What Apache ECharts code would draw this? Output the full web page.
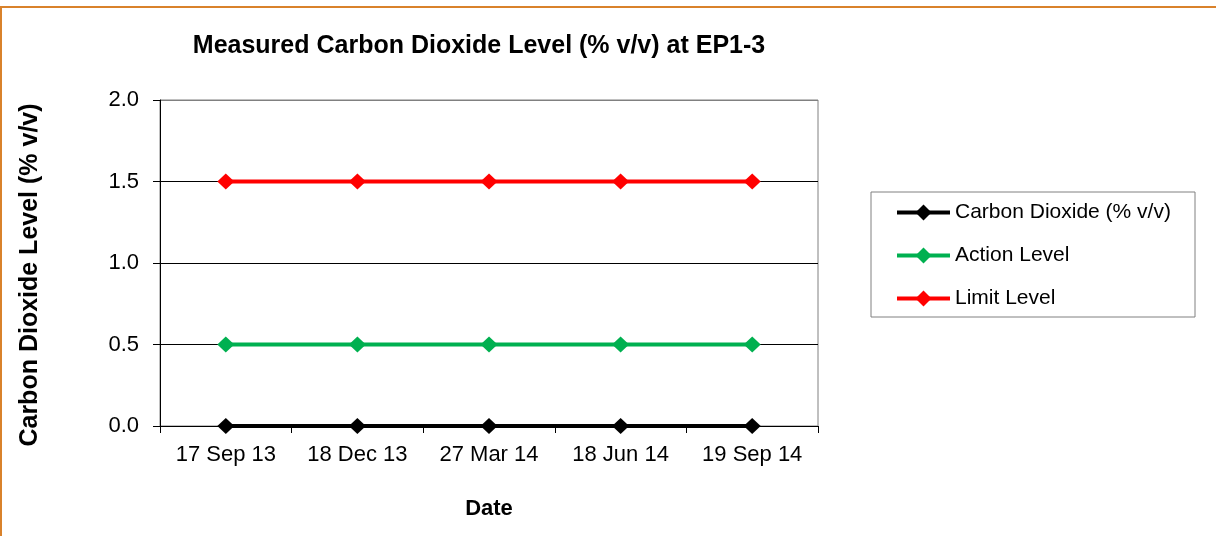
<!DOCTYPE html>
<html>
<head>
<meta charset="utf-8">
<script src="https://cdn.jsdelivr.net/npm/echarts@6/dist/echarts.min.js"></script>
<style>
  html, body { margin: 0; padding: 0; background: #fff; }
  #chart { width: 1216px; height: 536px; }
  .frame {
    position: absolute;
    left: 0;
    top: 6px;
    width: 1216px;
    height: 530px;
    border-top: 2px solid #d9822b;
    border-left: 2px solid #d9822b;
    pointer-events: none;
  }
</style>
</head>
<body>
<div id="chart"></div>
<div class="frame"></div>
<script>
const dates = ['17 Sep 13', '18 Dec 13', '27 Mar 14', '18 Jun 14', '19 Sep 14']
const carbonDioxide = [0, 0, 0, 0, 0]
const actionLevel = [0.5, 0.5, 0.5, 0.5, 0.5]
const limitLevel = [1.5, 1.5, 1.5, 1.5, 1.5]
const yTicks = [0, 0.5, 1.0, 1.5, 2.0]

const font = 'Arial, "Liberation Sans", sans-serif'

function lineSeries(name, data, color) {
  return {
    name,
    type: 'line',
    data,
    symbol: 'diamond',
    symbolSize: [17, 16],
    lineStyle: { color, width: 4 },
    itemStyle: { color },
    emphasis: { disabled: true },
    animation: false
  }
}

const chart = echarts.init(document.getElementById('chart'))
chart.setOption({
  animation: false,
  textStyle: { fontFamily: font },
  title: {
    text: 'Measured Carbon Dioxide Level (% v/v) at EP1-3',
    left: 474,
    textAlign: 'center',
    top: 29,
    textStyle: { fontFamily: font, fontSize: 25, fontWeight: 'bold', color: '#000' }
  },
  grid: {
    left: 160,
    right: 398,
    top: 100,
    bottom: 110,
    show: true,
    borderColor: '#808080',
    borderWidth: 1,
    backgroundColor: 'transparent'
  },
  graphic: [
    {
      type: 'rect',
      shape: { x: 871, y: 192, width: 324, height: 125 },
      style: { fill: '#fff', stroke: '#808080', lineWidth: 1 },
      z: 1
    }
  ],
  legend: {
    orient: 'vertical',
    left: 895,
    top: 202,
    padding: 0,
    itemWidth: 53,
    itemHeight: 20,
    itemGap: 22,
    z: 10,
    lineStyle: { width: 4 },
    textStyle: { fontFamily: font, fontSize: 21, lineHeight: 20, color: '#000' },
    data: ['Carbon Dioxide (% v/v)', 'Action Level', 'Limit Level']
  },
  xAxis: {
    type: 'category',
    data: dates,
    boundaryGap: true,
    name: 'Date',
    nameLocation: 'middle',
    nameGap: 72,
    nameTextStyle: { fontFamily: font, fontSize: 22, fontWeight: 'bold', color: '#000' },
    axisLine: { lineStyle: { color: '#000', width: 1 } },
    axisTick: { show: true, interval: 0, length: 7, lineStyle: { color: '#000' } },
    axisLabel: { margin: 18, fontFamily: font, fontSize: 22, color: '#000', interval: 0 },
    splitLine: { show: false }
  },
  yAxis: {
    type: 'value',
    min: yTicks[0],
    max: yTicks[yTicks.length - 1],
    interval: 0.5,
    name: 'Carbon Dioxide Level (% v/v)',
    nameLocation: 'middle',
    nameGap: 117,
    nameTextStyle: {
      fontFamily: font,
      fontSize: 25,
      fontWeight: 'bold',
      color: '#000',
      padding: [0, 24, 0, 0]
    },
    axisLine: { show: true, lineStyle: { color: '#000', width: 1 } },
    axisTick: { show: true, length: 7, lineStyle: { color: '#000' } },
    axisLabel: {
      margin: 21,
      fontFamily: font,
      fontSize: 22,
      color: '#000',
      formatter: (v) => v.toFixed(1)
    },
    splitLine: {
      show: true,
      lineStyle: { color: ['#000', '#000', '#000', '#000', '#808080'], width: 1 }
    }
  },
  series: [
    lineSeries('Carbon Dioxide (% v/v)', carbonDioxide, '#000000'),
    lineSeries('Action Level', actionLevel, '#00b050'),
    lineSeries('Limit Level', limitLevel, '#ff0000')
  ]
})
</script>
</body>
</html>
